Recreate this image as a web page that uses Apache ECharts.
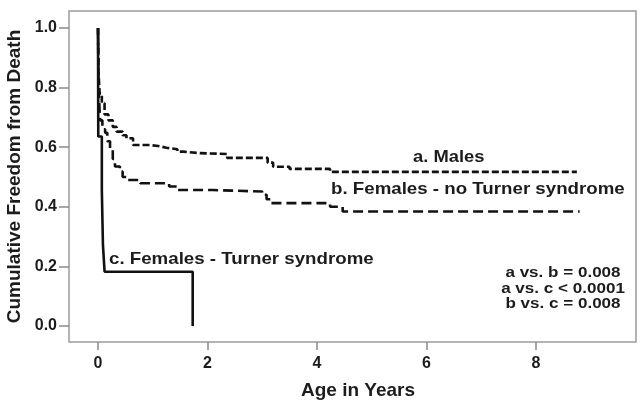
<!DOCTYPE html>
<html>
<head>
<meta charset="utf-8">
<script src="https://cdn.jsdelivr.net/npm/echarts@6/dist/echarts.min.js"></script>
<style>
html,body{margin:0;padding:0;background:#fff;}
#chart{width:644px;height:410px;}
</style>
</head>
<body>
<div id="chart"></div>
<script>
// Kaplan-Meier step data: [age in years, cumulative freedom from death]
const males = [
  [0,1.0],[0.01,0.85],[0.03,0.78],[0.07,0.747],[0.12,0.71],[0.19,0.69],[0.27,0.668],
  [0.34,0.652],[0.45,0.64],[0.52,0.63],[0.64,0.607],[0.95,0.604],[1.1,0.598],[1.25,0.593],
  [1.45,0.585],[1.56,0.58],[1.86,0.577],[2.36,0.564],[3.1,0.548],[3.2,0.534],[3.5,0.527],
  [4.24,0.517],[8.75,0.517]
];
const femalesNoTurner = [
  [0,1.0],[0.01,0.80],[0.03,0.72],[0.04,0.69],[0.08,0.66],[0.13,0.648],[0.17,0.62],
  [0.22,0.59],[0.27,0.56],[0.31,0.535],[0.4,0.518],[0.45,0.5],[0.52,0.49],[0.77,0.479],
  [1.3,0.468],[1.45,0.456],[2.1,0.451],[3.0,0.44],[3.08,0.425],[3.15,0.412],
  [4.24,0.40],[4.47,0.384],[8.8,0.384]
];
const femalesTurner = [
  [0,1.0],[0.005,0.636],[0.07,0.455],[0.09,0.273],[0.12,0.182],[1.73,0.0]
];
const xTicks = [0,2,4,6,8];
const yTicks = [0,0.2,0.4,0.6,0.8,1.0];
const seriesLabels = ['a. Males','b. Females - no Turner syndrome','c. Females - Turner syndrome'];
const pValueLines = ['a vs. b = 0.008','a vs. c < 0.0001','b vs. c = 0.008'];

const FONT = '"Liberation Sans", Arial, sans-serif';
const TXT = '#1c1c1c';
const chart = echarts.init(document.getElementById('chart'));
const labelStyle = {fontFamily: FONT, fontWeight: 'bold', fill: TXT};

chart.setOption({
  animation: false,
  backgroundColor: '#fff',
  grid: {left: 69, right: 8, top: 11, bottom: 68, show: true, borderColor: '#9c9c9c', borderWidth: 1.5,
         containLabel: false, outerBoundsMode: 'none'},
  xAxis: {
    type: 'value', min: -0.53, max: 9.83,
    axisLine: {show: false, onZero: false},
    splitLine: {show: false},
    axisTick: {show: true, inside: false, length: 8, customValues: xTicks, lineStyle: {color: '#8a8a8a', width: 1.5}},
    axisLabel: {customValues: xTicks, margin: 14, fontFamily: FONT, fontWeight: 'bold', fontSize: 16, color: TXT},
    name: 'Age in Years', nameLocation: 'middle', nameGap: 39,
    nameTextStyle: {fontFamily: FONT, fontWeight: 'bold', fontSize: 19, color: TXT, padding: [0, 0, 0, 11]}
  },
  yAxis: {
    type: 'value', min: -0.054, max: 1.057,
    axisLine: {show: false, onZero: false},
    splitLine: {show: false},
    axisTick: {show: true, inside: false, length: 10, customValues: yTicks, lineStyle: {color: '#8a8a8a', width: 1.5}},
    axisLabel: {customValues: yTicks, margin: 12, fontFamily: FONT, fontWeight: 'bold', fontSize: 16, color: TXT,
      formatter: v => v.toFixed(1)},
    name: 'Cumulative Freedom from Death', nameLocation: 'middle', nameGap: 43,
    nameTextStyle: {fontFamily: FONT, fontWeight: 'bold', fontSize: 19, color: TXT}
  },
  series: [
    {type: 'line', step: 'end', data: males, symbol: 'none',
     lineStyle: {color: '#111', width: 2.6, type: [7, 3]}},
    {type: 'line', step: 'end', data: femalesNoTurner, symbol: 'none',
     lineStyle: {color: '#111', width: 2.6, type: [10, 5]}},
    {type: 'line', step: 'end', data: femalesTurner, symbol: 'none',
     lineStyle: {color: '#111', width: 2.6}}
  ],
  graphic: [
    {type: 'text', x: 413, y: 149, scaleX: 1.08, style: Object.assign({text: seriesLabels[0], fontSize: 17}, labelStyle)},
    {type: 'text', x: 331, y: 181, scaleX: 1.1, style: Object.assign({text: seriesLabels[1], fontSize: 17}, labelStyle)},
    {type: 'text', x: 109, y: 251, scaleX: 1.1, style: Object.assign({text: seriesLabels[2], fontSize: 17}, labelStyle)},
    {type: 'text', x: 563, y: 265, scaleX: 1.1, style: Object.assign({text: pValueLines.join('\n'), fontSize: 15.5, lineHeight: 15.5, align: 'center'}, labelStyle)}
  ]
});
</script>
</body>
</html>
